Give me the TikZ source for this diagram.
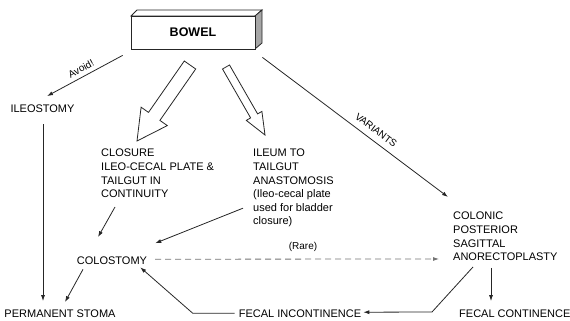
\documentclass[tikz,border=0pt]{standalone}
\usepackage{fontspec}
\setmainfont{Liberation Sans}
\usetikzlibrary{arrows.meta,calc}
\begin{document}
\begin{tikzpicture}[x=1pt,y=-1pt,
  lbl/.style={font=\fontsize{11}{13.6}\selectfont, inner sep=0pt, align=left, text=black},
  small/.style={font=\fontsize{10}{12}\selectfont, inner sep=0pt, text=black},
  conn/.style={draw=black!85, line width=0.8pt, -{Latex[length=6pt,width=4pt]}},
  dashconn/.style={conn, draw=black!55, dash pattern=on 6pt off 4pt},
  hollow/.style={draw=black!85, line width=0.8pt, fill=white, line join=miter},
  boxface/.style={draw=black!85, line width=0.8pt}]
\useasboundingbox (0,0) rectangle (570,321);

% BOWEL box (3D)
\draw[boxface, fill=white] (137,10) -- (262,10) -- (255,16) -- (131,16) -- cycle;
\draw[boxface, fill=black!35] (255,16) -- (262,10) -- (262,43) -- (255,49) -- cycle;
\node[boxface, fill=white, minimum width=124pt, minimum height=33pt, inner sep=0pt,
      font=\bfseries\fontsize{12.5}{14}\selectfont, text=black] (bowel) at (193,32.5) {BOWEL};

% hollow arrows
\draw[hollow] (195.7,69.0) -- (159.9,120.4) -- (167.3,125.6) -- (137,141) -- (141.1,107.2) -- (148.5,112.4) -- (184.3,61.0) -- cycle;
\draw[hollow] (229.5,65.0) -- (257.6,113.9) -- (261.9,111.4) -- (265,135) -- (246.3,120.4) -- (250.6,117.9) -- (222.5,69.0) -- cycle;

% text nodes
\node[lbl, anchor=base] (ileo) at (42.5,112) {ILEOSTOMY};
\node[lbl, anchor=base] (perm) at (60,317) {PERMANENT STOMA};
\node[lbl, anchor=base] (colo) at (112,264) {COLOSTOMY};
\node[lbl, anchor=base] (fin) at (300,317) {FECAL INCONTINENCE};
\node[lbl, anchor=base west] (fc) at (459,317) {FECAL CONTINENCE};
\node[lbl, anchor=north west] (clos) at (101,149) {CLOSURE\\ILEO-CECAL PLATE \&\\TAILGUT IN\\CONTINUITY};
\node[lbl, anchor=north west] (ileum) at (253,149) {ILEUM TO\\TAILGUT\\ANASTOMOSIS\\(Ileo-cecal plate\\used for bladder\\closure)};
\node[lbl, anchor=north west] (cpsarp) at (453,212) {COLONIC\\POSTERIOR\\SAGITTAL\\ANORECTOPLASTY};
\node[small, anchor=base] (rare) at (303,249) {(Rare)};

% connectors
\draw[conn] ([shift={(-8,6)}]bowel.south west) -- node[small, sloped, above=4pt, pos=0.5] {Avoid!} ([shift={(4.5,-8)}]ileo.north);
\draw[conn] ([shift={(0.5,12)}]ileo.south) -- ([shift={(-17,-8)}]perm.north);
\draw[conn] ([shift={(-29,5)}]colo.south) -- ([shift={(5,-7)}]perm.north);
\draw[conn] ([shift={(14,9)}]clos.south west) -- ([shift={(-14,-19)}]colo.north);
\draw[conn] ([shift={(-10,20)}]ileum.west) -- ([shift={(8,-17)}]colo.east);
\draw[dashconn] ([shift={(8,-1)}]colo.east) -- ([shift={(-14,-2)}]cpsarp.south west);
\draw[conn] ([shift={(7,8)}]bowel.south east) -- node[small, sloped, above=6pt, pos=0.58] {VARIANTS} ([shift={(-5,-15)}]cpsarp.north west);
\draw[conn] ([shift={(20,6)}]cpsarp.south west) -- ++(-41,45) -- ([shift={(2,-1)}]fin.east);
\draw[conn] ([shift={(38,7)}]cpsarp.south west) -- ([shift={(32,-8)}]fc.north west);
\draw[conn] ([shift={(-4,0)}]fin.west) -- ++(-42,0) -- ([shift={(-7,3)}]colo.south east);
\end{tikzpicture}
\end{document}
